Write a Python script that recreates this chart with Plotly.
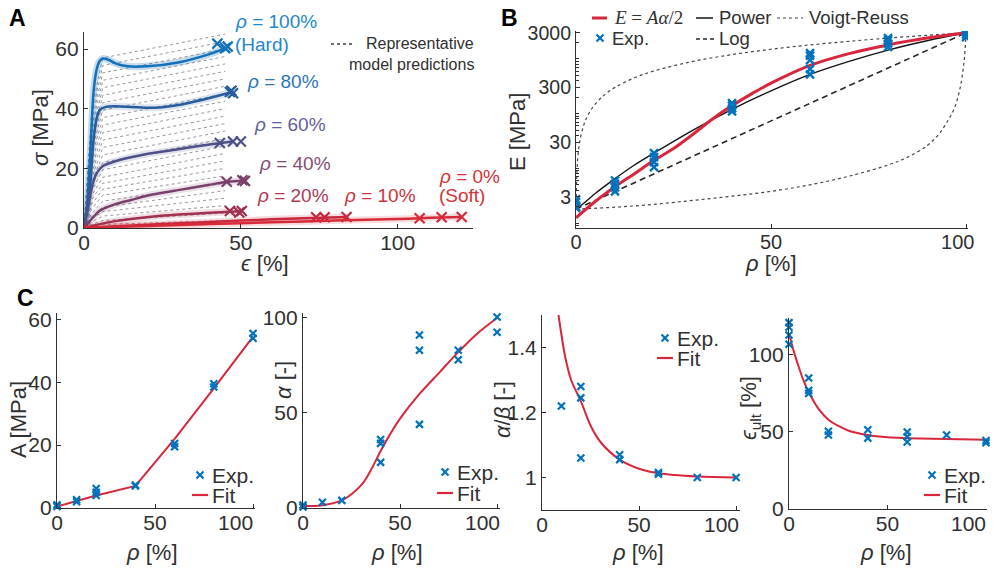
import plotly.graph_objects as go

W, H = 995, 571          # picture size

# ---------------- Panel A data ----------------
eps_r100 = [0, 1, 2, 3, 4, 5, 6, 8, 10, 14, 20, 30, 40, 45]
sig_r100 = [0, 8, 25, 45, 53, 56, 56.8, 56.3, 55.2, 54.2, 54.2, 55.5, 58.3, 60.2]
eps_r80 = [0, 1, 2, 3, 4, 5, 7, 10, 20, 25, 30, 40, 47]
sig_r80 = [0, 6, 15, 29, 36.5, 39.5, 40.6, 40.8, 40.3, 40.5, 41.2, 43.6, 45.5]
eps_r60 = [0, 1, 2, 3, 4, 6, 10, 20, 30, 40, 47.5]
sig_r60 = [0, 5, 11, 15.5, 18.3, 20.8, 22.4, 24.8, 26.4, 28.0, 29.0]
eps_r40 = [0, 2, 5, 10, 15, 20, 30, 40, 46, 51]
sig_r40 = [0, 2.5, 5.8, 8.0, 9.4, 10.8, 12.7, 14.5, 15.5, 15.9]
eps_r20 = [0, 5, 10, 20, 30, 40, 50]
sig_r20 = [0, 1.3, 2.3, 3.6, 4.5, 5.1, 5.6]
eps_r10 = [0, 10, 20, 30, 40, 50, 60, 70, 84]
sig_r10 = [0, 0.6, 1.1, 1.6, 2.0, 2.5, 2.9, 3.3, 3.7]
eps_r0 = [0, 20, 40, 60, 80, 100, 107, 114, 120]
sig_r0 = [0, 0.7, 1.3, 1.9, 2.5, 3.0, 3.3, 3.5, 3.7]

# failure points (x markers)
fail_eps = {100: [42.5, 45, 45.8], 80: [46.5, 47.5, 47], 60: [43.3, 47.5, 50],
            40: [45.5, 50.5, 51.3], 20: [46.5, 49.5, 50.3], 10: [74, 76.7, 83.7],
            0: [107, 114, 120.4]}
fail_sig = {100: [61.8, 60.3, 60.8], 80: [45.6, 45.2, 46.0], 60: [28.5, 29.0, 29.0],
            40: [15.5, 16.0, 15.8], 20: [5.7, 5.2, 5.7], 10: [3.6, 3.6, 3.7],
            0: [3.3, 3.6, 3.7]}

# representative model predictions (gray dotted)
gray_eps = [0, 2.5, 6, 45]
gray_s25 = [40, 38, 36, 34, 32, 30, 28, 26, 24, 22, 20, 18.5, 17, 15.5, 14, 12.5,
            11, 9.5, 8, 6.5, 5, 4, 3, 2, 1.2, 0.5]
gray_s6 = [57, 54.5, 52, 49.5, 47, 44.5, 42, 39.5, 37, 34.5, 32, 29.5, 27, 24.5, 22,
           19.5, 17, 15, 13, 11, 9, 7, 5.5, 4, 2.5, 1.2]
gray_s45 = [65, 62.5, 60, 57.5, 55, 52.5, 50, 47.5, 45, 42.5, 40, 37.5, 35, 32.5, 30,
            27.5, 25, 22.5, 20, 17.5, 15, 12.5, 10, 7.5, 5, 2.5]

# ---------------- Panel B data ----------------
rho_fit = [0, 5, 10, 15, 20, 25, 30, 35, 40, 45, 50, 60, 70, 80, 90, 100]
E_fit = [1.25, 2.5, 4.6, 8, 14, 23, 42, 80, 140, 230, 360, 760, 1250, 1800, 2400, 3000]
rho_pow = [0, 2, 5, 10, 15, 20, 30, 40, 50, 60, 70, 80, 90, 100]
E_pow = [1.8, 2.3, 3.5, 6.5, 11.5, 19, 50, 120, 260, 520, 900, 1450, 2150, 3000]
rho_log = [0, 100]
E_log = [1.8, 3000]
rho_voigt = [0, 0.25, 0.5, 1, 2, 3, 5, 7.5, 10, 15, 20, 30, 40, 50, 60, 70, 80, 90, 100]
E_voigt = [1.8, 9, 17, 32, 62, 92, 152, 227, 302, 452, 602, 901, 1201, 1501, 1801,
           2100, 2400, 2700, 3000]
rho_reuss = [0, 10, 20, 30, 40, 50, 60, 70, 80, 85, 90, 93, 95, 97, 98.5, 99.5, 100]
E_reuss = [1.8, 1.95, 2.2, 2.6, 3.1, 3.8, 5.0, 7.2, 11.5, 16, 26, 42, 68, 125, 300, 900, 3000]
rho_expB = [0, 0, 0, 0, 10, 10, 10, 10, 20, 20, 20, 20, 40, 40, 40, 40,
            60, 60, 60, 60, 60, 80, 80, 80, 80, 100, 100, 100, 100]
E_expB = [2.0, 2.4, 2.7, 1.9, 3.8, 4.5, 5.2, 6.0, 10.5, 13, 16, 19, 110, 125, 140, 155,
          520, 650, 950, 1150, 1280, 1650, 1900, 2200, 2400, 2500, 2800, 3100, 3300]

# ---------------- Panel C data ----------------
rho_A = [0, 0, 10, 10, 20, 20, 20, 40, 40, 60, 60, 80, 80, 100, 100]
A_exp = [0.5, 1.0, 2.0, 2.6, 4.0, 5.0, 6.2, 7.0, 7.3, 19.5, 20.5, 38.5, 39.5, 54, 55.5]
rho_Afit = [0, 10, 20, 40, 60, 80, 100]
A_fit = [0.5, 2.2, 4.0, 7.0, 22, 38, 54.5]

rho_al = [0, 0, 10, 20, 40, 40, 40, 60, 60, 60, 80, 80, 100, 100]
al_exp = [0.5, 1.5, 3, 4, 24, 34, 36, 44, 83, 91, 78, 83, 92.5, 100.5]
rho_alfit = [0, 10, 20, 30, 35, 40, 45, 50, 60, 70, 80, 90, 100]
al_fit = [1, 1.5, 4, 12, 20, 30, 39, 47, 60, 71, 82, 92, 100]

rho_ab = [10, 20, 20, 20, 40, 40, 60, 60, 80, 100]
ab_exp = [1.22, 1.28, 1.245, 1.06, 1.07, 1.055, 1.01, 1.015, 1.0, 1.0]
rho_abfit = [8.5, 10, 12, 15, 20, 25, 30, 40, 50, 60, 80, 100]
ab_fit = [1.5, 1.44, 1.37, 1.30, 1.235, 1.16, 1.11, 1.055, 1.027, 1.013, 1.003, 1.0]

rho_eu = [0, 0, 0, 0, 10, 10, 10, 20, 20, 40, 40, 60, 60, 60, 80, 100, 100]
eu_exp = [107, 113, 118, 121, 75, 77, 85, 48, 50.5, 46, 51.5, 43.5, 47, 50, 48, 43, 44.5]
rho_eufit = [0, 2.5, 5, 7.5, 10, 15, 20, 25, 30, 40, 50, 60, 80, 100]
eu_fit = [114, 102, 92, 83, 76, 65, 58, 54, 51, 48, 46.5, 46, 45.5, 45]

# tick labels
rho_ticks = [0, 50, 100]

# ---------------- styling ----------------
BLUE = 'rgb(0,114,189)'
RED = 'rgb(216,38,60)'
TXT = '#303030'
SANS = 'Liberation Sans, Arial'
SERIF = 'Liberation Serif, Times New Roman'
NB = '\u00a0'

rho_colors = {100: 'rgb(20,112,185)', 80: 'rgb(40,92,158)', 60: 'rgb(78,80,138)',
              40: 'rgb(122,64,108)', 20: 'rgb(162,48,80)', 10: 'rgb(200,40,62)',
              0: 'rgb(214,42,56)'}
label_colors = {100: 'rgb(30,135,205)', 80: 'rgb(45,118,185)', 60: 'rgb(95,95,155)',
                40: 'rgb(130,78,118)', 20: 'rgb(172,58,84)', 10: 'rgb(204,52,62)',
                0: 'rgb(214,50,56)'}


def px(x):
    return x / W


def py(y):
    return 1 - y / H


fig = go.Figure()

# ---- Panel A traces ----
gx, gy = [], []
for a, b, c in zip(gray_s25, gray_s6, gray_s45):
    gx += gray_eps + [None]
    gy += [0, a, b, c, None]
fig.add_trace(go.Scatter(x=gx, y=gy, mode='lines', xaxis='x', yaxis='y',
                         line=dict(color='rgb(140,140,140)', width=0.9, dash='dot'),
                         showlegend=False))

curvesA = [(100, eps_r100, sig_r100), (80, eps_r80, sig_r80), (60, eps_r60, sig_r60),
           (40, eps_r40, sig_r40), (20, eps_r20, sig_r20), (10, eps_r10, sig_r10),
           (0, eps_r0, sig_r0)]
for r, ex, sy in curvesA:
    col = rho_colors[r]
    alpha = 0.25 if r == 100 else 0.16
    band = col.replace('rgb', 'rgba').replace(')', f',{alpha})')
    fig.add_trace(go.Scatter(x=ex, y=sy, mode='lines', xaxis='x', yaxis='y',
                             line=dict(color=band, width=7, shape='spline', smoothing=0.6),
                             showlegend=False))
    fig.add_trace(go.Scatter(x=ex, y=sy, mode='lines', xaxis='x', yaxis='y',
                             line=dict(color=col, width=2.5, shape='spline', smoothing=0.6),
                             showlegend=False))
    fig.add_trace(go.Scatter(x=fail_eps[r], y=fail_sig[r], mode='markers', xaxis='x', yaxis='y',
                             marker=dict(symbol='x-thin', size=10, line=dict(color=col, width=2.2)),
                             showlegend=False))

# ---- Panel B traces ----
fig.add_trace(go.Scatter(x=rho_voigt, y=E_voigt, mode='lines', xaxis='x2', yaxis='y2',
                         line=dict(color='rgb(70,70,70)', width=1.2, dash='dot', shape='spline'),
                         showlegend=False))
fig.add_trace(go.Scatter(x=rho_reuss, y=E_reuss, mode='lines', xaxis='x2', yaxis='y2',
                         line=dict(color='rgb(70,70,70)', width=1.2, dash='dot', shape='spline'),
                         showlegend=False))
fig.add_trace(go.Scatter(x=rho_log, y=E_log, mode='lines', xaxis='x2', yaxis='y2',
                         line=dict(color='rgb(40,40,40)', width=1.6, dash='6px,4px'),
                         showlegend=False))
fig.add_trace(go.Scatter(x=rho_pow, y=E_pow, mode='lines', xaxis='x2', yaxis='y2',
                         line=dict(color='rgb(20,20,20)', width=1.4, shape='spline'),
                         showlegend=False))
fig.add_trace(go.Scatter(x=rho_fit, y=E_fit, mode='lines', xaxis='x2', yaxis='y2',
                         line=dict(color=RED, width=3, shape='spline'),
                         showlegend=False))
fig.add_trace(go.Scatter(x=rho_expB, y=E_expB, mode='markers', xaxis='x2', yaxis='y2',
                         marker=dict(symbol='x-thin', size=8, line=dict(color=BLUE, width=2.4)),
                         showlegend=False))

# ---- Panel C traces ----
Cdata = [('x3', 'y3', rho_A, A_exp, rho_Afit, A_fit, 'linear'),
         ('x4', 'y4', rho_al, al_exp, rho_alfit, al_fit, 'spline'),
         ('x5', 'y5', rho_ab, ab_exp, rho_abfit, ab_fit, 'spline'),
         ('x6', 'y6', rho_eu, eu_exp, rho_eufit, eu_fit, 'spline')]
for xa, ya, rx, ry, fx, fy, shp in Cdata:
    fig.add_trace(go.Scatter(x=fx, y=fy, mode='lines', xaxis=xa, yaxis=ya,
                             line=dict(color=RED, width=2, shape=shp),
                             showlegend=False))
    fig.add_trace(go.Scatter(x=rx, y=ry, mode='markers', xaxis=xa, yaxis=ya,
                             marker=dict(symbol='x-thin', size=7, line=dict(color=BLUE, width=2.2)),
                             showlegend=False, cliponaxis=False))


# ---------------- axes ----------------
def ax(domain, rng, tickvals, typ='linear', anchor=None, tlabels=None, minor=None, fs=21,
       standoff=0, overflow=None):
    d = dict(domain=domain, range=rng, showline=True, linecolor=TXT, linewidth=1.2,
             ticks='inside', ticklen=4, tickcolor=TXT, showgrid=False, zeroline=False,
             tickvals=tickvals, tickfont=dict(family=SANS, size=fs, color=TXT),
             type=typ, anchor=anchor, fixedrange=True, automargin=False,
             ticklabelstandoff=standoff)
    if tlabels is not None:
        d['ticktext'] = tlabels
    if minor is not None:
        d['minor'] = dict(ticks='inside', ticklen=3, tickcolor=TXT, showgrid=False,
                          tickmode='array', tickvals=minor)
    if overflow is not None:
        d['ticklabeloverflow'] = overflow
    return d


def rho_labels(n):
    # last label sits a little left of its tick, as in the original figure
    return [str(v) for v in rho_ticks[:-1]] + [str(rho_ticks[-1]) + NB * n]


minor_log = [k * 10 ** d for d in range(-1, 4) for k in range(1, 10)]
XS = -4

layout = dict(
    width=W, height=H, margin=dict(l=0, r=0, t=0, b=0, autoexpand=False),
    paper_bgcolor='white', plot_bgcolor='white', showlegend=False,
    xaxis=ax([px(84), px(473)], [0, 124], rho_ticks, anchor='y', standoff=XS),
    yaxis=ax([py(228), py(32)], [0, 65.7], [0, 20, 40, 60], anchor='x'),
    xaxis2=ax([px(576), px(968)], [0, 100.5], rho_ticks, anchor='y2', fs=20, standoff=XS,
              tlabels=rho_labels(3), overflow='allow'),
    yaxis2=ax([py(228), py(31)], [-0.09, 3.51], [3, 30, 300, 3000], typ='log', anchor='x2',
              tlabels=['3', '30', '300', '3000'], minor=minor_log, fs=19.5),
    xaxis3=ax([px(57), px(255)], [0, 101], rho_ticks, anchor='y3', standoff=XS,
              tlabels=rho_labels(6), overflow='allow'),
    yaxis3=ax([py(508), py(313)], [0, 62], [0, 20, 40, 60], anchor='x3'),
    xaxis4=ax([px(303), px(500)], [0, 101.5], rho_ticks, anchor='y4', standoff=XS,
              tlabels=rho_labels(5), overflow='allow'),
    yaxis4=ax([py(508), py(313)], [0, 102.6], [0, 50, 100], anchor='x4'),
    xaxis5=ax([px(542), px(740)], [0, 102], rho_ticks, anchor='y5', standoff=XS,
              tlabels=rho_labels(5), overflow='allow'),
    yaxis5=ax([py(510), py(315)], [0.9, 1.5], [1, 1.2, 1.4], anchor='x5',
              tlabels=['1', '1.2', '1.4']),
    xaxis6=ax([px(789), px(987)], [0, 100.5], rho_ticks, anchor='y6', standoff=XS,
              tlabels=rho_labels(6), overflow='allow'),
    yaxis6=ax([py(509), py(318)], [0, 124], [0, 50, 100], anchor='x6'),
)
fig.update_layout(**layout)

ann = []


def text(x, y, s, size=19, color=TXT, family=SANS, angle=0, xanchor='center', bold=False):
    ann.append(dict(x=px(x), y=py(y), xref='paper', yref='paper',
                    text=(f'<b>{s}</b>' if bold else s),
                    showarrow=False, font=dict(size=size, color=color, family=family),
                    textangle=angle, xanchor=xanchor, yanchor='middle'))


# panel letters
text(17, 18, 'A', size=23, color='black', bold=True)
text(509, 18, 'B', size=23, color='black', bold=True)
text(25, 298, 'C', size=23, color='black', bold=True)

# axis titles
text(40, 128, '<i>σ</i> [MPa]', size=22, angle=-90)
text(265, 263, '<i>ϵ</i> [%]', size=22)
text(517, 132, 'E [MPa]', size=22, angle=-90)
text(771, 263, '<i>ρ</i> [%]', size=22)
text(18, 420, 'A [MPa]', size=22, angle=-90)
text(283, 380, '<i>α</i> [-]', size=22, angle=-90)
text(502, 410, '<i>α</i>/<i>β</i> [-]', size=22, angle=-90)
text(750, 408, '<i>ϵ</i><sub>ult</sub> [%]', size=22, angle=-90)
for xc in [152, 397, 638, 886]:
    text(xc, 552, '<i>ρ</i> [%]', size=22)

# panel A rho labels
text(233, 21, '<i>ρ</i> = 100%', size=19, color=label_colors[100], xanchor='left')
text(233, 45, '(Hard)', size=19, color=label_colors[100], xanchor='left')
text(245, 82, '<i>ρ</i> = 80%', size=19, color=label_colors[80], xanchor='left')
text(252, 125, '<i>ρ</i> = 60%', size=19, color=label_colors[60], xanchor='left')
text(257, 163, '<i>ρ</i> = 40%', size=19, color=label_colors[40], xanchor='left')
text(255, 196, '<i>ρ</i> = 20%', size=19, color=label_colors[20], xanchor='left')
text(342, 196, '<i>ρ</i> = 10%', size=19, color=label_colors[10], xanchor='left')
text(437, 176, '<i>ρ</i> = 0%', size=19, color=label_colors[0], xanchor='left')
text(437, 196, '(Soft)', size=19, color=label_colors[0], xanchor='left')

shapes = []


def hline(x0, x1, y, color, width=2, dash='solid'):
    shapes.append(dict(type='line', xref='paper', yref='paper', x0=px(x0), x1=px(x1),
                       y0=py(y), y1=py(y), line=dict(color=color, width=width, dash=dash)))


def xmark(x, y, color=BLUE, s=3.5, width=2.2):
    for dy in (s, -s):
        shapes.append(dict(type='line', xref='paper', yref='paper', x0=px(x - s), x1=px(x + s),
                           y0=py(y - dy), y1=py(y + dy), line=dict(color=color, width=width)))


# panel A legend
hline(331, 355, 44, 'rgb(60,60,60)', 1.3, 'dot')
text(364, 44, 'Representative', size=16, xanchor='left')
text(347, 64, 'model predictions', size=16, xanchor='left')

# panel B legend
hline(592, 607, 18, RED, 3)
text(612, 18, '<i>E</i> = <i>Aα</i>/2', size=19, family=SERIF, xanchor='left')
hline(696, 713, 18, 'rgb(20,20,20)', 1.5)
text(717, 18, 'Power', size=18.5, xanchor='left')
hline(777, 803, 18, 'rgb(70,70,70)', 1.2, 'dot')
text(807, 18, 'Voigt-Reuss', size=18.5, xanchor='left')
xmark(600, 38)
text(610, 39, 'Exp.', size=18.5, xanchor='left')
hline(696, 716, 39, 'rgb(40,40,40)', 1.6, '4px,3px')
text(717, 39, 'Log', size=18.5, xanchor='left')

# panel C legends
for (xm, ye, yf) in [(200, 475, 495), (445, 472, 493), (665, 338, 358), (932, 475, 495)]:
    xmark(xm, ye)
    text(xm + 10, ye, 'Exp.', size=21, xanchor='left')
    hline(xm - 8, xm + 8, yf, RED, 2.2)
    text(xm + 10, yf, 'Fit', size=21, xanchor='left')

fig.update_layout(annotations=ann, shapes=shapes)
fig.write_html('out.html')
